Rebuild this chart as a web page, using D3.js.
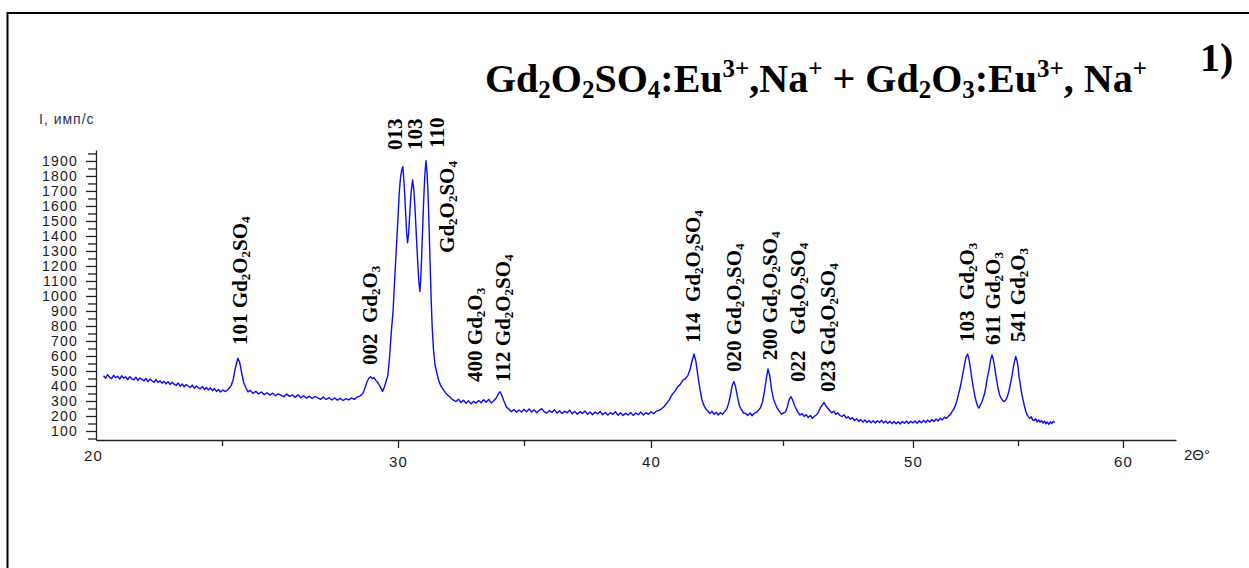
<!DOCTYPE html>
<html>
<head>
<meta charset="utf-8">
<script src="https://cdn.jsdelivr.net/npm/d3@7"></script>
<style>
  body { margin: 0; background: #fff; }
  svg { display: block; }
</style>
</head>
<body>
<div id="chart"></div>
<script>
// scan: [2theta (deg), intensity (counts/s)]
const scan = [
  [20.30, 468], [20.38, 452], [20.46, 476], [20.54, 458], [20.62, 449], [20.70, 471], [20.78, 455], [20.86, 465],
  [20.94, 446], [21.02, 468], [21.10, 452], [21.18, 461], [21.26, 443], [21.34, 463], [21.42, 448], [21.50, 441],
  [21.58, 459], [21.66, 437], [21.74, 453], [21.82, 444], [21.90, 433], [21.98, 451], [22.06, 429], [22.14, 446],
  [22.22, 435], [22.30, 425], [22.38, 443], [22.46, 423], [22.54, 435], [22.62, 419], [22.70, 432], [22.78, 414],
  [22.86, 429], [22.94, 410], [23.02, 425], [23.10, 412], [23.18, 403], [23.26, 420], [23.34, 399], [23.42, 413],
  [23.50, 395], [23.58, 410], [23.66, 400], [23.74, 390], [23.82, 406], [23.90, 385], [23.98, 400], [24.06, 388],
  [24.14, 381], [24.22, 397], [24.30, 377], [24.38, 390], [24.46, 374], [24.54, 388], [24.62, 369], [24.70, 383],
  [24.78, 364], [24.86, 377], [24.94, 360], [25.02, 373], [25.10, 363], [25.18, 378], [25.26, 402], [25.32, 445],
  [25.38, 520], [25.45, 585], [25.50, 560], [25.56, 485], [25.62, 420], [25.68, 388], [25.74, 360], [25.80, 372],
  [25.88, 351], [25.96, 364], [26.04, 347], [26.12, 360], [26.20, 342], [26.28, 355], [26.36, 339], [26.44, 352],
  [26.52, 335], [26.60, 348], [26.68, 338], [26.76, 329], [26.84, 346], [26.92, 331], [27.00, 340], [27.08, 324],
  [27.16, 341], [27.24, 322], [27.32, 335], [27.40, 319], [27.48, 332], [27.56, 317], [27.64, 330], [27.72, 320],
  [27.80, 311], [27.88, 327], [27.96, 310], [28.04, 322], [28.12, 307], [28.20, 320], [28.28, 306], [28.36, 318],
  [28.44, 303], [28.52, 316], [28.60, 307], [28.68, 320], [28.76, 311], [28.84, 327], [28.92, 333], [29.00, 350],
  [29.06, 385], [29.12, 428], [29.18, 455], [29.22, 462], [29.27, 448], [29.32, 456], [29.37, 437], [29.42, 426],
  [29.47, 405], [29.52, 384], [29.56, 364], [29.61, 392], [29.66, 430], [29.71, 468], [29.76, 590], [29.81, 760],
  [29.86, 900], [29.91, 1130], [29.96, 1350], [30.00, 1520], [30.05, 1690], [30.10, 1790], [30.15, 1840], [30.19, 1862],
  [30.22, 1800], [30.26, 1700], [30.30, 1560], [30.34, 1430], [30.38, 1355], [30.42, 1410], [30.47, 1560], [30.52, 1690],
  [30.58, 1773], [30.63, 1705], [30.67, 1600], [30.71, 1465], [30.75, 1330], [30.79, 1200], [30.83, 1090], [30.87, 1030],
  [30.91, 1130], [30.95, 1320], [30.99, 1510], [31.03, 1680], [31.07, 1820], [31.11, 1902], [31.15, 1830], [31.19, 1690],
  [31.23, 1480], [31.27, 1240], [31.32, 960], [31.36, 780], [31.41, 640], [31.47, 540], [31.54, 487], [31.61, 440],
  [31.68, 408], [31.75, 388], [31.82, 370], [31.90, 352], [31.98, 338], [32.06, 326], [32.14, 312], [32.22, 304],
  [32.30, 296], [32.40, 312], [32.50, 290], [32.60, 305], [32.70, 285], [32.80, 301], [32.90, 281], [33.00, 297],
  [33.10, 286], [33.20, 303], [33.30, 288], [33.40, 308], [33.50, 292], [33.60, 311], [33.70, 287], [33.80, 302],
  [33.90, 320], [33.98, 346], [34.05, 362], [34.12, 338], [34.20, 302], [34.30, 260], [34.40, 246], [34.50, 229],
  [34.60, 243], [34.70, 225], [34.80, 240], [34.90, 227], [35.00, 245], [35.10, 229], [35.20, 247], [35.30, 226],
  [35.40, 241], [35.50, 222], [35.60, 238], [35.70, 249], [35.80, 228], [35.90, 219], [36.00, 237], [36.10, 224],
  [36.20, 241], [36.30, 219], [36.40, 235], [36.50, 216], [36.60, 232], [36.70, 222], [36.80, 238], [36.90, 215],
  [37.00, 231], [37.10, 212], [37.20, 229], [37.30, 217], [37.40, 234], [37.50, 211], [37.60, 227], [37.70, 209],
  [37.80, 226], [37.90, 214], [38.00, 230], [38.10, 208], [38.20, 224], [38.30, 206], [38.40, 222], [38.50, 211],
  [38.60, 228], [38.70, 205], [38.80, 221], [38.90, 203], [39.00, 219], [39.10, 207], [39.20, 224], [39.30, 204],
  [39.40, 220], [39.50, 209], [39.60, 226], [39.70, 206], [39.80, 222], [39.90, 211], [40.00, 228], [40.10, 215],
  [40.20, 232], [40.30, 238], [40.40, 248], [40.50, 263], [40.60, 286], [40.70, 309], [40.80, 343], [40.90, 364],
  [41.00, 393], [41.10, 409], [41.20, 437], [41.30, 447], [41.40, 471], [41.48, 510], [41.55, 565], [41.63, 613],
  [41.70, 566], [41.78, 462], [41.86, 372], [41.93, 310], [42.00, 272], [42.08, 246], [42.15, 233], [42.23, 217],
  [42.31, 231], [42.39, 211], [42.47, 225], [42.55, 207], [42.63, 223], [42.71, 212], [42.79, 229], [42.87, 246],
  [42.95, 290], [43.02, 350], [43.08, 405], [43.14, 429], [43.20, 398], [43.27, 332], [43.35, 268], [43.43, 240],
  [43.51, 220], [43.59, 216], [43.67, 204], [43.75, 220], [43.83, 202], [43.91, 218], [43.99, 224], [44.07, 238],
  [44.15, 256], [44.22, 292], [44.29, 355], [44.36, 440], [44.43, 513], [44.50, 468], [44.57, 372], [44.64, 314],
  [44.71, 280], [44.78, 252], [44.86, 231], [44.94, 212], [45.02, 221], [45.10, 228], [45.17, 262], [45.24, 310],
  [45.30, 329], [45.37, 308], [45.44, 272], [45.51, 246], [45.58, 224], [45.65, 206], [45.73, 216], [45.81, 197],
  [45.89, 209], [45.97, 190], [46.05, 203], [46.13, 185], [46.21, 198], [46.29, 208], [46.37, 228], [46.45, 258],
  [46.52, 276], [46.58, 290], [46.64, 271], [46.71, 255], [46.79, 238], [46.87, 221], [46.95, 232], [47.03, 211],
  [47.11, 221], [47.19, 203], [47.27, 197], [47.35, 208], [47.43, 186], [47.51, 196], [47.59, 178], [47.67, 189],
  [47.75, 170], [47.83, 182], [47.91, 164], [47.99, 176], [48.07, 159], [48.15, 173], [48.23, 157], [48.31, 170],
  [48.39, 155], [48.47, 169], [48.55, 153], [48.63, 168], [48.71, 157], [48.79, 172], [48.87, 154], [48.95, 167],
  [49.03, 151], [49.11, 165], [49.19, 149], [49.27, 163], [49.35, 148], [49.43, 162], [49.51, 147], [49.59, 163],
  [49.67, 152], [49.75, 167], [49.83, 150], [49.91, 165], [49.99, 154], [50.10, 166], [50.20, 152], [50.30, 168],
  [50.40, 155], [50.50, 171], [50.60, 157], [50.70, 173], [50.80, 160], [50.90, 177], [51.00, 163], [51.10, 180],
  [51.20, 167], [51.30, 185], [51.40, 174], [51.50, 193], [51.60, 184], [51.70, 201], [51.78, 209], [51.86, 229],
  [51.93, 244], [52.00, 262], [52.07, 292], [52.14, 329], [52.22, 375], [52.29, 420], [52.38, 487], [52.45, 540],
  [52.52, 590], [52.60, 613], [52.66, 582], [52.71, 540], [52.79, 462], [52.87, 391], [52.95, 330], [53.03, 286],
  [53.09, 262], [53.14, 253], [53.20, 271], [53.27, 290], [53.34, 318], [53.41, 350], [53.47, 392], [53.52, 440],
  [53.57, 476], [53.62, 507], [53.69, 571], [53.76, 607], [53.81, 586], [53.86, 550], [53.91, 505], [53.96, 458],
  [54.04, 392], [54.12, 342], [54.20, 318], [54.27, 304], [54.33, 296], [54.40, 304], [54.47, 321], [54.53, 346],
  [54.58, 375], [54.63, 408], [54.68, 442], [54.72, 472], [54.76, 510], [54.83, 561], [54.89, 596], [54.95, 570],
  [55.00, 530], [55.05, 462], [55.10, 420], [55.14, 381], [55.19, 340], [55.24, 307], [55.30, 270], [55.37, 232],
  [55.43, 209], [55.49, 196], [55.56, 184], [55.63, 195], [55.70, 173], [55.77, 170], [55.84, 181], [55.91, 161],
  [55.98, 174], [56.05, 159], [56.12, 170], [56.19, 153], [56.26, 166], [56.33, 148], [56.40, 160], [56.47, 144],
  [56.54, 161], [56.61, 149], [56.68, 164], [56.76, 158]
]

const yMajorTicks = [100, 200, 300, 400, 500, 600, 700, 800, 900, 1000, 1100, 1200, 1300, 1400, 1500, 1600, 1700, 1800, 1900]
const yMinorTicks = [50, 150, 250, 350, 450, 550, 650, 750, 850, 950, 1050, 1150, 1250, 1350, 1450, 1550, 1650, 1750, 1850, 1950]
const xMajorTicks = [20, 30, 40, 50, 60]
const xMinorTicks = [25, 35, 45, 55]

// reflection labels: text ("_n" subscript), 2theta of the label and the intensity level where it starts
const peakLabels = [
  { text: '101 Gd_2O_2SO_4', angle: 25.51, level: 673 },
  { text: '002  Gd_2O_3', angle: 29.2, level: 540 },
  { text: '013', angle: 29.91, level: 1973 },
  { text: '103', angle: 30.67, level: 1973 },
  { text: '110', angle: 31.55, level: 1987 },
  { text: 'Gd_2O_2SO_4', angle: 31.94, level: 1287 },
  { text: '400 Gd_2O_3', angle: 33.06, level: 427 },
  { text: '112 Gd_2O_2SO_4', angle: 34.17, level: 427 },
  { text: '114  Gd_2O_2SO_4', angle: 41.59, level: 687 },
  { text: '020 Gd_2O_2SO_4', angle: 43.14, level: 493 },
  { text: '200 Gd_2O_2SO_4', angle: 44.51, level: 573 },
  { text: '022   Gd_2O_2SO_4', angle: 45.58, level: 427 },
  { text: '023 Gd_2O_2SO_4', angle: 46.73, level: 360 },
  { text: '103  Gd_2O_3', angle: 52.57, level: 693 },
  { text: '611 Gd_2O_3', angle: 53.81, level: 673 },
  { text: '541 Gd_2O_3', angle: 55.0, level: 693 }
]

const titleText = 'Gd_2O_2SO_4:Eu^3+,Na^+ + Gd_2O_3:Eu^3+, Na^+'
const panelTag = '1)'
const yTitle = 'I, имп/с'
const xTitle = '2Θ°'

const width = 1249
const height = 568
const serif = "'Liberation Serif', 'Times New Roman', serif"
const sans = "'Liberation Sans', Arial, sans-serif"

// the instrument's printout has an uneven 2theta axis, so the scale is piecewise
const x = d3.scaleLinear()
  .domain([20, 25, 30, 35, 40, 45, 50, 55, 60, 62.5])
  .range([96, 222, 398, 524, 651, 783, 913, 1018, 1123, 1176])

const y = d3.scaleLinear()
  .domain([40, 1973])
  .range([440, 150])

const svg = d3.select('#chart').append('svg')
  .attr('width', width)
  .attr('height', height)

svg.append('rect')
  .attr('width', width)
  .attr('height', height)
  .attr('fill', '#fff')

// frame (top and left edges only)
svg.append('path')
  .attr('d', 'M7.5,' + height + 'V13H' + width)
  .attr('fill', 'none')
  .attr('stroke', '#000')
  .attr('stroke-width', 2)

// writes a string with _n subscripts and ^n superscripts as tspans
function richText (sel, str, size, smallSize, subShift, supShift) {
  const parts = str.split(/(_[0-9]|\^[0-9+]+)/).filter(function (s) { return s !== '' })
  let shift = 0
  parts.forEach(function (p) {
    let t = p
    let target = 0
    let fs = size
    if (p[0] === '_') {
      t = p.slice(1); target = subShift; fs = smallSize
    } else if (p[0] === '^') {
      t = p.slice(1); target = -supShift; fs = smallSize
    }
    sel.append('tspan')
      .attr('dy', target - shift)
      .style('font-size', fs + 'px')
      .text(t)
    shift = target
  })
}

// axes
const xMinor = svg.append('g')
  .attr('transform', 'translate(0,440)')
  .call(d3.axisBottom(x).tickValues(xMinorTicks).tickSize(6).tickSizeOuter(0).tickFormat(''))
xMinor.select('.domain').remove()

const xAxis = svg.append('g')
  .attr('transform', 'translate(0,440)')
  .call(d3.axisBottom(x).tickValues(xMajorTicks).tickSize(8).tickPadding(8).tickSizeOuter(0).tickFormat(d3.format('d')))

xAxis.selectAll('.tick').filter(function (d) { return d === 20 })
  .call(function (g) {
    g.select('line').remove()
    g.select('text').attr('y', 10).attr('x', -3)
  })

const yMinor = svg.append('g')
  .attr('transform', 'translate(96,0)')
  .call(d3.axisLeft(y).tickValues(yMinorTicks).tickSize(8).tickSizeOuter(0).tickFormat(''))
yMinor.select('.domain').remove()

const yAxis = svg.append('g')
  .attr('transform', 'translate(96,0)')
  .call(d3.axisLeft(y).tickValues(yMajorTicks).tickSize(10).tickPadding(8).tickSizeOuter(0).tickFormat(d3.format('d')))

svg.selectAll('.domain, .tick line')
  .attr('stroke', '#222')
  .attr('stroke-width', 1.3)

svg.selectAll('.tick text')
  .attr('fill', '#1a1a1a')
  .style('font-family', sans)
  .style('font-size', '14px')
  .style('letter-spacing', '1.2px')

xAxis.selectAll('.tick text').style('font-size', '15px')

// axis titles
svg.append('text')
  .attr('x', 39)
  .attr('y', 124)
  .attr('fill', '#2e2e5c')
  .style('font-family', sans)
  .style('font-size', '14px')
  .style('letter-spacing', '1px')
  .text(yTitle)

svg.append('text')
  .attr('x', 1184)
  .attr('y', 460)
  .attr('fill', '#1a1a1a')
  .style('font-family', sans)
  .style('font-size', '15px')
  .text(xTitle)

// pattern
const line = d3.line()
  .x(function (d) { return x(d[0]) })
  .y(function (d) { return y(d[1]) })

svg.append('path')
  .datum(scan)
  .attr('d', line)
  .attr('fill', 'none')
  .attr('stroke', '#0a0aff')
  .attr('stroke-width', 1.4)
  .attr('stroke-linejoin', 'round')

// reflection labels
peakLabels.forEach(function (d) {
  const t = svg.append('text')
    .attr('transform', 'translate(' + x(d.angle) + ',' + y(d.level) + ') rotate(-90)')
    .attr('y', 7)
    .attr('fill', '#000')
    .style('font-family', serif)
    .style('font-weight', 'bold')
    .style('font-size', '21px')
    .style('white-space', 'pre')
  richText(t, d.text, 21, 13, 3, 8)
})

// title and panel tag
const title = svg.append('text')
  .attr('x', 485)
  .attr('y', 92)
  .attr('fill', '#000')
  .style('font-family', serif)
  .style('font-weight', 'bold')
  .style('font-size', '40px')
  .style('white-space', 'pre')
richText(title, titleText, 40, 25, 6, 15)

svg.append('text')
  .attr('x', 1200)
  .attr('y', 71)
  .attr('fill', '#000')
  .style('font-family', serif)
  .style('font-weight', 'bold')
  .style('font-size', '40px')
  .text(panelTag)
</script>
</body>
</html>
